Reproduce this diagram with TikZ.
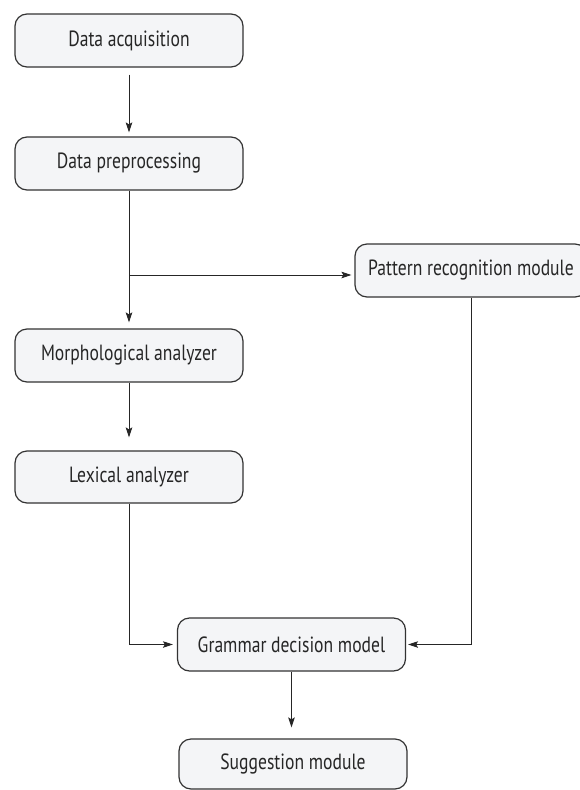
\documentclass[tikz,border=0pt]{standalone}
\usepackage{fontspec}
\setmainfont[FakeStretch=0.8]{PT Sans}
\usetikzlibrary{arrows.meta}
\definecolor{boxfill}{HTML}{F4F5F7}
\definecolor{boxline}{HTML}{333333}
\begin{document}
\begin{tikzpicture}[x=1pt,y=-1pt,
  blk/.style={draw=boxline, line width=1.2pt, fill=boxfill, rounded corners=12pt,
    minimum width=228pt, minimum height=53pt, inner sep=0pt,
    font=\fontsize{22}{26}\selectfont, text=black!85},
  conn/.style={draw=black!85, line width=0.9pt, -{Stealth[length=10pt,width=6.5pt,inset=2pt]}}]
\useasboundingbox (0,0) rectangle (580,790);
\fill[white] (0,0) rectangle (580,790);
\node[blk] (A) at (129,40.5) {Data acquisition};
\node[blk] (B) at (129,163.5) {Data preprocessing};
\node[blk] (C) at (129,355.5) {Morphological analyzer};
\node[blk, minimum height=52pt] (D) at (129,477) {Lexical analyzer};
\node[blk, minimum width=232pt] (P) at (471,270.5) {Pattern recognition module};
\node[blk] (G) at (291.5,644.5) {Grammar decision model};
\node[blk, minimum height=50pt] (S) at (293,764) {Suggestion module};
\coordinate (br) at (129,275);
\draw[conn, shorten <=7pt, shorten >=4pt] (A) -- (B);
\draw[conn, shorten >=6pt] (B) -- (C);
\draw[conn, shorten >=3pt] (br) -- (P.west |- br);
\draw[conn, shorten >=13pt] (C) -- (D);
\draw[conn, shorten >=4pt] (D.south) |- (G.west);
\draw[conn, shorten >=2pt] (P.south) |- (G.east);
\draw[conn, shorten >=11pt] (G.south) -- (G.south |- S.north);
\end{tikzpicture}
\end{document}
